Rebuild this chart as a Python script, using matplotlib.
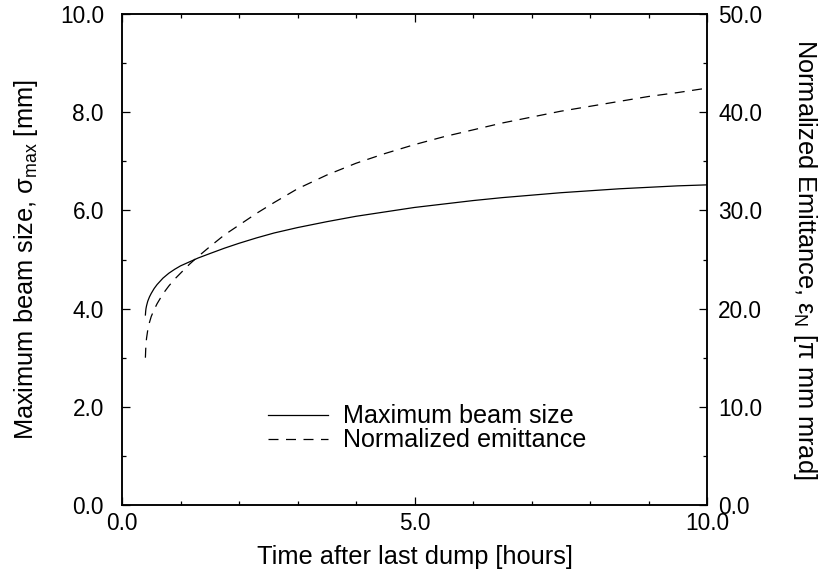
import matplotlib
matplotlib.use("Agg")
import matplotlib.pyplot as plt
from matplotlib.ticker import MultipleLocator, FormatStrFormatter

plt.rcParams['font.family'] = ['Liberation Sans', 'DejaVu Sans']
plt.rcParams['mathtext.fontset'] = 'custom'
plt.rcParams['mathtext.rm'] = 'Liberation Sans'
plt.rcParams['mathtext.it'] = 'Liberation Sans:italic'

# Data
time_size = [0.40, 0.405, 0.41, 0.42, 0.44, 0.47, 0.50, 0.55, 0.60, 0.70, 0.80,
             0.90, 1.00, 1.15, 1.30, 1.50, 1.75, 2.00, 2.30, 2.60, 3.00, 3.50,
             4.00, 4.50, 5.00, 5.50, 6.00, 6.50, 7.00, 7.50, 8.00, 8.50, 9.00,
             9.50, 10.00]
beam_size = [3.87, 3.95, 4.00, 4.06, 4.15, 4.24, 4.31, 4.41, 4.49, 4.62, 4.72,
             4.80, 4.87, 4.95, 5.03, 5.12, 5.23, 5.33, 5.44, 5.54, 5.65, 5.77,
             5.88, 5.97, 6.06, 6.13, 6.20, 6.26, 6.31, 6.36, 6.40, 6.44, 6.47,
             6.50, 6.52]

time_emit = [0.40, 0.405, 0.41, 0.42, 0.44, 0.47, 0.50, 0.55, 0.60, 0.70, 0.80,
             0.90, 1.00, 1.15, 1.30, 1.50, 1.75, 2.00, 2.30, 2.60, 3.00, 3.50,
             4.00, 4.50, 5.00, 5.50, 6.00, 6.50, 7.00, 7.50, 8.00, 8.50, 9.00,
             9.50, 10.00]
emittance = [15.0, 15.8, 16.4, 17.0, 17.8, 18.6, 19.2, 19.9, 20.5, 21.5, 22.3,
             23.0, 23.6, 24.5, 25.3, 26.3, 27.5, 28.5, 29.7, 30.8, 32.2, 33.6,
             34.8, 35.8, 36.7, 37.5, 38.2, 38.9, 39.5, 40.1, 40.6, 41.1, 41.6,
             42.0, 42.45]

label_size = "Maximum beam size"
label_emit = "Normalized emittance"

FS_TICK = 16.3
FS_LABEL = 18.3
FS_LEG = 18.1

fig = plt.figure(figsize=(8.22, 5.81), dpi=100)
ax = fig.add_axes([122/822, 1-505/581, (707-122)/822, (505-14)/581])
ax2 = ax.twinx()

l1, = ax.plot(time_size, beam_size, color='black', lw=0.9, label=label_size)
l2, = ax2.plot(time_emit, emittance, color='black', lw=0.9, dashes=(8, 6),
               label=label_emit)

ax.set_xlim(0, 10)
ax.set_ylim(0, 10)
ax2.set_ylim(0, 50)

ax.xaxis.set_major_locator(MultipleLocator(5))
ax.xaxis.set_minor_locator(MultipleLocator(1))
ax.yaxis.set_major_locator(MultipleLocator(2))
ax.yaxis.set_minor_locator(MultipleLocator(1))
ax2.yaxis.set_major_locator(MultipleLocator(10))
ax2.yaxis.set_minor_locator(MultipleLocator(5))
ax.xaxis.set_major_formatter(FormatStrFormatter('%.1f'))
ax.yaxis.set_major_formatter(FormatStrFormatter('%.1f'))
ax2.yaxis.set_major_formatter(FormatStrFormatter('%.1f'))

ax.tick_params(axis='x', which='both', direction='in', top=True, bottom=True,
               labelsize=FS_TICK, pad=5)
ax.tick_params(axis='y', which='both', direction='in', left=True, right=False,
               labelsize=FS_TICK, pad=13)
ax2.tick_params(axis='y', which='both', direction='in', labelsize=FS_TICK, pad=8)
for a in (ax, ax2):
    a.tick_params(which='major', length=6, width=0.9)
    a.tick_params(which='minor', length=3, width=0.9)
    for s in a.spines.values():
        s.set_linewidth(1.1)

ax.set_xlabel("Time after last dump [hours]", fontsize=FS_LABEL, labelpad=7)
ax.set_ylabel(r"Maximum beam size, σ$_{\rm max}$ [mm]", fontsize=FS_LABEL,
              labelpad=14)
ax2.set_ylabel(r"Normalized Emittance, ε$_{\rm N}$ [π mm mrad]", fontsize=FS_LABEL,
               rotation=270, labelpad=41)

leg = ax.legend(handles=[l1, l2], loc='center left',
                bbox_to_anchor=(0.2496, 0.156), frameon=False, fontsize=FS_LEG,
                handlelength=2.39, handletextpad=0.6, labelspacing=0.0,
                borderaxespad=0, borderpad=0)

fig.savefig("out.png", dpi=100)
